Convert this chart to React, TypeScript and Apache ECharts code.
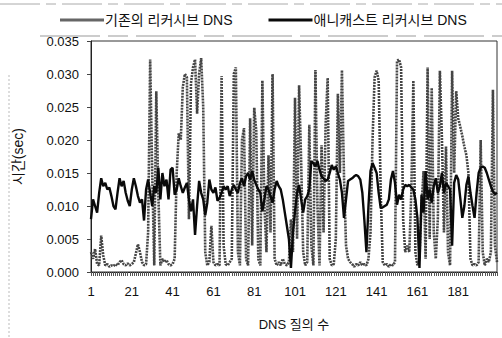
import React, { useEffect, useRef } from "react";
import * as echarts from "echarts";

const categories: string[] = Array.from({ length: 200 }, (_, i) => String(i + 1));

const legacyDNS: number[] = [
  0.0030, 0.0020, 0.0035, 0.0012, 0.0010, 0.0055, 0.0025, 0.0010, 0.0012, 0.0008,
  0.0010, 0.0009, 0.0012, 0.0010, 0.0015, 0.0018, 0.0012, 0.0010, 0.0013, 0.0010,
  0.0012, 0.0015, 0.0028, 0.0042, 0.0030, 0.0015, 0.0010, 0.0012, 0.0060, 0.0322,
  0.0150, 0.0010, 0.0274, 0.0120, 0.0010, 0.0020, 0.0015, 0.0018, 0.0012, 0.0010,
  0.0012, 0.0020, 0.0150, 0.0210, 0.0200, 0.0280, 0.0300, 0.0295, 0.0080, 0.0286,
  0.0310, 0.0322, 0.0240, 0.0300, 0.0324, 0.0250, 0.0030, 0.0010, 0.0015, 0.0070,
  0.0015, 0.0010, 0.0012, 0.0010, 0.0297, 0.0040, 0.0012, 0.0010, 0.0015, 0.0020,
  0.0300, 0.0310, 0.0030, 0.0010, 0.0200, 0.0218, 0.0020, 0.0010, 0.0233, 0.0040,
  0.0249, 0.0214, 0.0020, 0.0010, 0.0290, 0.0100, 0.0030, 0.0177, 0.0060, 0.0300,
  0.0020, 0.0010, 0.0015, 0.0010, 0.0020, 0.0012, 0.0010, 0.0015, 0.0080, 0.0030,
  0.0264, 0.0050, 0.0283, 0.0168, 0.0030, 0.0010, 0.0015, 0.0223, 0.0040, 0.0010,
  0.0306, 0.0100, 0.0010, 0.0192, 0.0060, 0.0223, 0.0294, 0.0020, 0.0010, 0.0012,
  0.0050, 0.0270, 0.0150, 0.0306, 0.0145, 0.0040, 0.0020, 0.0015, 0.0012, 0.0008,
  0.0012, 0.0010, 0.0015, 0.0010, 0.0012, 0.0010, 0.0020, 0.0060, 0.0200, 0.0295,
  0.0305, 0.0290, 0.0120, 0.0015, 0.0010, 0.0012, 0.0008, 0.0012, 0.0010, 0.0015,
  0.0320, 0.0322, 0.0310, 0.0080, 0.0030, 0.0040, 0.0030, 0.0120, 0.0290, 0.0030,
  0.0010, 0.0020, 0.0100, 0.0153, 0.0020, 0.0310, 0.0050, 0.0279, 0.0060, 0.0020,
  0.0080, 0.0305, 0.0203, 0.0060, 0.0190, 0.0030, 0.0010, 0.0305, 0.0150, 0.0274,
  0.0233, 0.0220, 0.0206, 0.0190, 0.0177, 0.0150, 0.0020, 0.0010, 0.0012, 0.0010,
  0.0015, 0.0200, 0.0030, 0.0010, 0.0020, 0.0015, 0.0030, 0.0276, 0.0040, 0.0015,
];

const anycastDNS: number[] = [
  0.0080, 0.0110, 0.0100, 0.0090, 0.0120, 0.0142, 0.0130, 0.0135, 0.0125, 0.0128,
  0.0115, 0.0100, 0.0095, 0.0120, 0.0142, 0.0130, 0.0138, 0.0120, 0.0108, 0.0100,
  0.0125, 0.0142, 0.0130, 0.0115, 0.0105, 0.0110, 0.0078, 0.0125, 0.0140, 0.0120,
  0.0100, 0.0130, 0.0120, 0.0158, 0.0110, 0.0150, 0.0130, 0.0140, 0.0110, 0.0155,
  0.0158, 0.0117, 0.0125, 0.0142, 0.0130, 0.0120, 0.0128, 0.0135, 0.0110, 0.0092,
  0.0110, 0.0056, 0.0100, 0.0138, 0.0120, 0.0110, 0.0086, 0.0105, 0.0140, 0.0125,
  0.0120, 0.0128, 0.0108, 0.0112, 0.0120, 0.0130, 0.0125, 0.0130, 0.0115, 0.0125,
  0.0132, 0.0125, 0.0120, 0.0135, 0.0142, 0.0130, 0.0145, 0.0150, 0.0140, 0.0153,
  0.0140, 0.0132, 0.0125, 0.0120, 0.0092, 0.0110, 0.0130, 0.0125, 0.0115, 0.0105,
  0.0125, 0.0138, 0.0130, 0.0125, 0.0110, 0.0090, 0.0070, 0.0050, 0.0006, 0.0060,
  0.0092, 0.0120, 0.0132, 0.0110, 0.0090, 0.0110, 0.0115, 0.0125, 0.0168, 0.0165,
  0.0160, 0.0168, 0.0155, 0.0145, 0.0142, 0.0138, 0.0140, 0.0150, 0.0162, 0.0155,
  0.0160, 0.0150, 0.0140, 0.0120, 0.0082, 0.0110, 0.0138, 0.0140, 0.0142, 0.0145,
  0.0147, 0.0145, 0.0140, 0.0120, 0.0078, 0.0030, 0.0100, 0.0153, 0.0165, 0.0158,
  0.0150, 0.0120, 0.0097, 0.0098, 0.0100, 0.0102, 0.0110, 0.0140, 0.0153, 0.0135,
  0.0102, 0.0117, 0.0110, 0.0125, 0.0132, 0.0130, 0.0132, 0.0128, 0.0125, 0.0110,
  0.0082, 0.0006, 0.0117, 0.0090, 0.0153, 0.0110, 0.0125, 0.0105, 0.0130, 0.0142,
  0.0120, 0.0130, 0.0150, 0.0120, 0.0135, 0.0130, 0.0125, 0.0040, 0.0135, 0.0147,
  0.0140, 0.0112, 0.0082, 0.0100, 0.0132, 0.0145, 0.0120, 0.0100, 0.0082, 0.0120,
  0.0150, 0.0158, 0.0160, 0.0158, 0.0150, 0.0140, 0.0130, 0.0122, 0.0118, 0.0120,
];

const seriesNames: string[] = ["기존의 리커시브 DNS", "애니캐스트 리커시브 DNS"];

const FONT = "'Liberation Sans', 'Noto Sans CJK KR', sans-serif";
const GREY = "#454545";

export default function App() {
  const ref = useRef<HTMLDivElement>(null);
  useEffect(() => {
    if (!ref.current) return;
    const chart = echarts.init(ref.current, null, { renderer: "svg", width: 502, height: 338 });
    chart.setOption({
      animation: false,
      backgroundColor: "#ffffff",
      textStyle: { fontFamily: FONT },
      legend: {
        top: 8,
        left: 55,
        width: 470,
        orient: "horizontal",
        itemWidth: 44,
        itemHeight: 3,
        itemGap: 36,
        icon: "rect",
        data: seriesNames,
        textStyle: { fontSize: 14, color: "#111", fontFamily: FONT, padding: [0, 0, 0, -4] },
      },
      grid: {
        left: 91,
        top: 41,
        width: 406,
        height: 231,
        containLabel: false,
        outerBoundsMode: "none",
        show: true,
        borderColor: "#333",
        borderWidth: 1,
      },
      xAxis: {
        type: "category",
        data: categories,
        boundaryGap: false,
        name: "DNS 질의 수",
        nameLocation: "middle",
        nameGap: 46,
        nameTextStyle: { fontSize: 13, color: "#111", fontFamily: FONT },
        axisLine: { lineStyle: { color: "#222", width: 1 } },
        axisTick: { show: true, interval: 0, length: 4, lineStyle: { color: "#555" } },
        axisLabel: { interval: 19, fontSize: 13, color: "#111", margin: 13 },
        splitLine: { show: false },
      },
      yAxis: {
        type: "value",
        min: 0,
        max: 0.035,
        interval: 0.005,
        name: "시간(sec)",
        nameLocation: "middle",
        nameGap: 66,
        nameTextStyle: { fontSize: 14, color: "#111", fontFamily: FONT },
        axisLine: { show: true, lineStyle: { color: "#222", width: 1 } },
        axisTick: { show: true, length: 4, lineStyle: { color: "#444" } },
        axisLabel: {
          fontSize: 13,
          color: "#111",
          margin: 12,
          formatter: (v: number) => v.toFixed(3),
        },
        splitLine: { show: false },
      },
      series: [
        {
          name: seriesNames[0],
          type: "line",
          data: legacyDNS,
          symbol: "none",
          lineStyle: { color: GREY, width: 2.6, type: [2, 1] },
          itemStyle: { color: "#666" },
          z: 2,
        },
        {
          name: seriesNames[1],
          type: "line",
          data: anycastDNS,
          symbol: "none",
          lineStyle: { color: "#0a0a0a", width: 2.4 },
          itemStyle: { color: "#0a0a0a" },
          z: 3,
        },
      ],
      graphic: [
        {
          type: "line",
          shape: { x1: 0, y1: 4, x2: 502, y2: 4 },
          style: { stroke: "#aaa", lineWidth: 1, lineDash: [40, 6, 10, 6] },
        },
        {
          type: "line",
          shape: { x1: 40, y1: 36, x2: 502, y2: 36 },
          style: { stroke: "#999", lineWidth: 1, lineDash: [60, 8, 20, 8] },
        },
        {
          type: "line",
          shape: { x1: 9, y1: 75, x2: 9, y2: 338 },
          style: { stroke: "#bbb", lineWidth: 1, lineDash: [2, 2] },
        },
      ],
    });
    return () => chart.dispose();
  }, []);
  return (
    <div
      ref={ref}
      style={{ position: "fixed", left: 0, top: 0, width: 502, height: 338, background: "#fff" }}
    />
  );
}
